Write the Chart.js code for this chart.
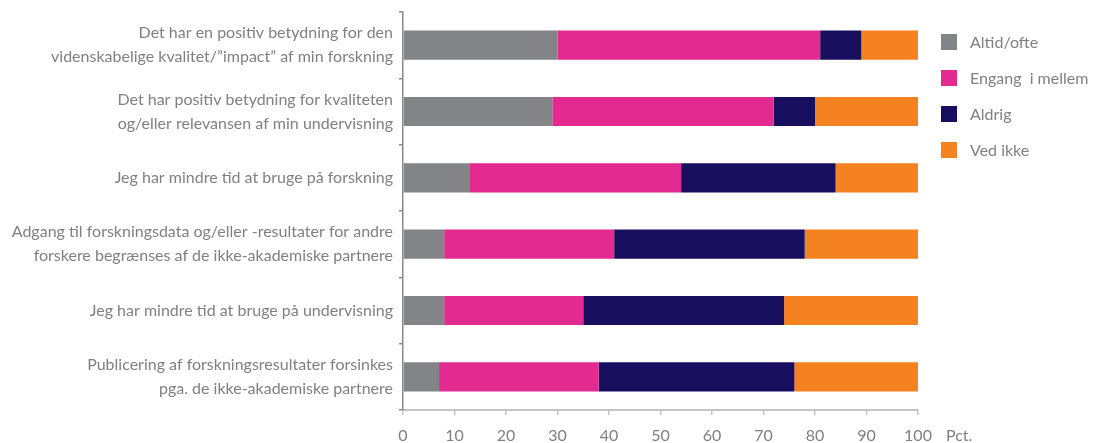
<!DOCTYPE html>
<html>
<head>
<meta charset="utf-8">
<script src="https://cdn.jsdelivr.net/npm/chart.js"></script>
<style>
    body { margin: 0; background: #fff; }
    #wrap { position: relative; width: 1104px; height: 443px; }
    #leyenda { position: absolute; left: 941px; top: 34px; margin: 0; padding: 0; list-style: none;
               font-family: Lato, "Open Sans", sans-serif; font-size: 16px; color: #808080; }
    #leyenda li { height: 36px; display: flex; align-items: flex-start; white-space: pre; }
    #leyenda span.caja { display: inline-block; width: 16px; height: 16px; margin-right: 13px; }
    #leyenda span.txt { line-height: 16px; }
</style>
</head>
<body>
<div id="wrap">
    <canvas id="myChart" width="1104" height="443"></canvas>
    <ul id="leyenda"></ul>
</div>
<script>
var categorias = [
    ['Det har en positiv betydning for den', 'videnskabelige kvalitet/\u201dimpact\u201d af min forskning'],
    ['Det har positiv betydning for kvaliteten', 'og/eller relevansen af min undervisning'],
    'Jeg har mindre tid at bruge på forskning',
    ['Adgang til forskningsdata og/eller -resultater for andre', 'forskere begrænses af de ikke-akademiske partnere'],
    'Jeg har mindre tid at bruge på undervisning',
    ['Publicering af forskningsresultater forsinkes', 'pga. de ikke-akademiske partnere']
];
var altidOfte = [30, 29, 13, 8, 8, 7];
var engangImellem = [51, 43, 41, 33, 27, 31];
var aldrig = [8, 8, 30, 37, 39, 38];
var vedIkke = [11, 20, 16, 22, 26, 24];
var xTicks = [0, 10, 20, 30, 40, 50, 60, 70, 80, 90, 100];

var grisTexto = '#808080';
var fuente = 'Lato, "Open Sans", sans-serif';

// etiqueta "Pct." a la derecha del eje x
var pctPlugin = {
    id: 'pct',
    afterDraw: function (chart) {
        var ctx = chart.ctx;
        var xs = chart.scales.x;
        ctx.save();
        ctx.font = '16px ' + fuente;
        ctx.fillStyle = grisTexto;
        ctx.textBaseline = 'middle';
        ctx.textAlign = 'left';
        ctx.fillText('Pct.', xs.right + 28, xs.top + 26);
        ctx.restore();
    }
};

// leyenda html a partir de los datasets
var leyendaPlugin = {
    id: 'leyendaHtml',
    afterUpdate: function (chart) {
        var ul = document.getElementById('leyenda');
        ul.innerHTML = '';
        chart.data.datasets.forEach(function (ds) {
            var li = document.createElement('li');
            var caja = document.createElement('span');
            caja.className = 'caja';
            caja.style.background = ds.backgroundColor;
            var txt = document.createElement('span');
            txt.className = 'txt';
            txt.textContent = ds.label;
            li.appendChild(caja);
            li.appendChild(txt);
            ul.appendChild(li);
        });
    }
};

var ctx = document.getElementById('myChart').getContext('2d');
var chart = new Chart(ctx, {
    type: 'bar',
    data: {
        labels: categorias,
        datasets: [
            { label: 'Altid/ofte', data: altidOfte, backgroundColor: '#838487' },
            { label: 'Engang  i mellem', data: engangImellem, backgroundColor: '#e22a91' },
            { label: 'Aldrig', data: aldrig, backgroundColor: '#170f5e' },
            { label: 'Ved ikke', data: vedIkke, backgroundColor: '#f58220' }
        ]
    },
    options: {
        indexAxis: 'y',
        responsive: false,
        animation: false,
        layout: { padding: { top: 12, right: 186, left: 0, bottom: 0 } },
        datasets: {
            bar: { barPercentage: 0.44, categoryPercentage: 1.0, borderWidth: 0 }
        },
        plugins: {
            tooltip: { enabled: false },
            legend: { display: false }
        },
        scales: {
            x: {
                stacked: true,
                min: 0,
                max: 100,
                afterBuildTicks: function (scale) {
                    scale.ticks = xTicks.map(function (v) { return { value: v }; });
                },
                afterFit: function (scale) {
                    scale.height = 33;
                },
                grid: {
                    drawOnChartArea: false,
                    tickLength: 5,
                    color: '#c4c4c4',
                    tickColor: '#c4c4c4',
                    lineWidth: 1.5
                },
                border: { color: '#c4c4c4', width: 2 },
                ticks: {
                    color: grisTexto,
                    padding: 11,
                    font: { family: fuente, size: 16 }
                }
            },
            y: {
                stacked: true,
                afterFit: function (scale) {
                    scale.width = 403;
                    scale.paddingTop = 0;
                    scale.paddingBottom = 0;
                },
                grid: {
                    drawOnChartArea: false,
                    offset: true,
                    tickLength: 4,
                    tickColor: '#8a8a8a',
                    lineWidth: 1.5
                },
                border: { color: '#8a8a8a', width: 1.5 },
                ticks: {
                    color: grisTexto,
                    padding: 6,
                    font: { family: fuente, size: 16, lineHeight: 1.5 }
                }
            }
        }
    },
    plugins: [pctPlugin, leyendaPlugin]
});
</script>
</body>
</html>
